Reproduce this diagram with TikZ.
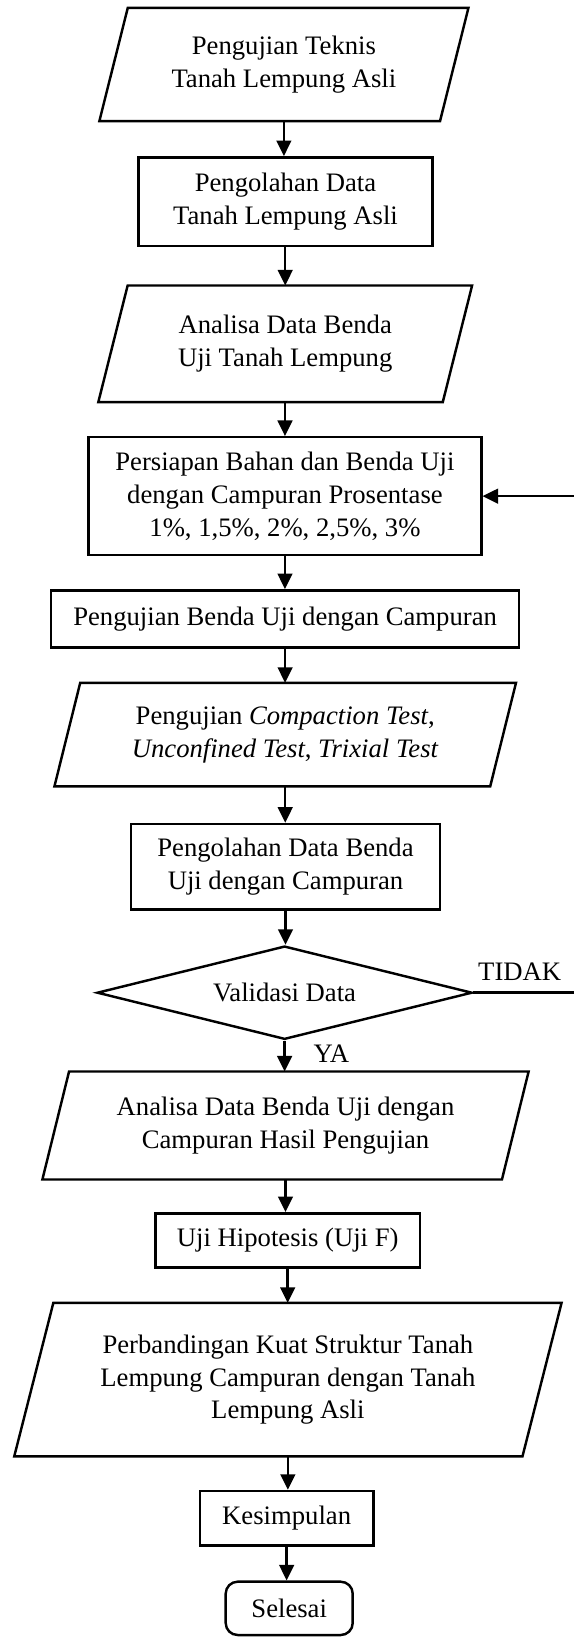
\documentclass[tikz,border=0pt]{standalone}
\usepackage{fontspec}
\setmainfont{Liberation Serif}
\usetikzlibrary{arrows.meta,shapes.geometric}
\newcommand\parabox[2]{\draw[outl] ([xshift=#2]#1.north west) -- ([xshift=#2]#1.north east) -- ([xshift=-#2]#1.south east) -- ([xshift=-#2]#1.south west) -- cycle;}
\begin{document}
\begin{tikzpicture}[x=0.45pt,y=-0.45pt,
  outl/.style={line width=1.1pt, line join=miter},
  txt/.style={font=\fontsize{12}{14.8}\selectfont, align=center, inner sep=0pt},
  procbox/.style={txt, draw, line width=1.1pt, rectangle},
  parabody/.style={txt, rectangle},
  endbox/.style={txt, draw, line width=1.1pt, rectangle, rounded corners=5.4pt},
  decbox/.style={txt, draw, line width=1.1pt, diamond, aspect=4},
  lbl/.style={font=\fontsize{12}{14.8}\selectfont, inner sep=0pt},
  arr/.style={line width=1.1pt, -{Triangle[length=7pt,width=6.6pt]}}]
\useasboundingbox (0,0) rectangle (574,1637);
\clip (0,0) rectangle (574,1637);
\fill[white] (0,0) rectangle (574,1637);

\node[parabody, minimum width=152.9pt, minimum height=50.6pt] (b1) at (283.9,64.5) {Pengujian Teknis\\Tanah Lempung Asli};
\parabox{b1}{6.4pt}
\node[procbox, minimum width=132.2pt, minimum height=39.9pt] (b2) at (285.5,201.65) {Pengolahan Data\\Tanah Lempung Asli};
\node[parabody, minimum width=154.6pt, minimum height=52.1pt] (b3) at (285.2,343.85) {Analisa Data Benda\\Uji Tanah Lempung};
\parabox{b3}{6.6pt}
\node[procbox, minimum width=176.7pt, minimum height=53.0pt] (b4) at (284.95,496.15) {Persiapan Bahan dan Benda Uji\\dengan Campuran Prosentase\\1\%, 1,5\%, 2\%, 2,5\%, 3\%};
\node[procbox, minimum width=210.5pt, minimum height=25.65pt] (b5) at (285.1,618.8) {Pengujian Benda Uji dengan Campuran};
\node[parabody, minimum width=195.7pt, minimum height=46.2pt] (b6) at (285.2,734.65) {Pengujian \textit{Compaction Test},\\\textit{Unconfined Test}, \textit{Trixial Test}};
\parabox{b6}{5.8pt}
\node[procbox, minimum width=139.05pt, minimum height=38.4pt] (b7) at (285.5,866.65) {Pengolahan Data Benda\\Uji dengan Campuran};
\node[decbox, minimum width=168.8pt, minimum height=42pt] (dia) at (284.6,992.7) {Validasi Data};
\node[parabody, minimum width=206.4pt, minimum height=48.2pt] (b8) at (285.5,1125.5) {Analisa Data Benda Uji dengan\\Campuran Hasil Pengujian};
\parabox{b8}{6.0pt}
\node[procbox, minimum width=118.9pt, minimum height=24.3pt] (b9) at (287.7,1240.3) {Uji Hipotesis (Uji F)};
\node[parabody, minimum width=228.3pt, minimum height=68.7pt] (b10) at (287.9,1379.65) {Perbandingan Kuat Struktur Tanah\\Lempung Campuran dengan Tanah\\Lempung Asli};
\parabox{b10}{8.8pt}
\node[procbox, minimum width=78.1pt, minimum height=24.6pt] (b11) at (286.65,1518.35) {Kesimpulan};
\node[endbox, minimum width=57.15pt, minimum height=24pt] (b12) at (289.2,1608.35) {Selesai};

\node[lbl, anchor=base] (tidak) at (519.7,980) {TIDAK};
\node[lbl, anchor=base] (ya) at (331.3,1062.7) {YA};
\coordinate (rx) at (600,992.7);

\draw[arr] (b1.south) -- (b1.south |- b2.north);
\draw[arr] (b3.north |- b2.south) -- (b3.north);
\draw[arr] (b4.north |- b3.south) -- (b4.north);
\draw[arr] (b4.south) -- (b4.south |- b5.north);
\draw[arr] (b5.south) -- (b5.south |- b6.north);
\draw[arr] (b6.south) -- (b6.south |- b7.north);
\draw[arr] (b7.south) -- (b7.south |- dia.north);
\draw[arr] (dia.south) -- (dia.south |- b8.north);
\draw[arr] (b8.south) -- (b8.south |- b9.north);
\draw[arr] (b9.south) -- (b9.south |- b10.north);
\draw[arr] (b10.south) -- (b10.south |- b11.north);
\draw[arr] (b11.south) -- (b11.south |- b12.north);
\draw[arr] (dia.east) -- (rx) |- (b4.east);
\end{tikzpicture}
\end{document}
